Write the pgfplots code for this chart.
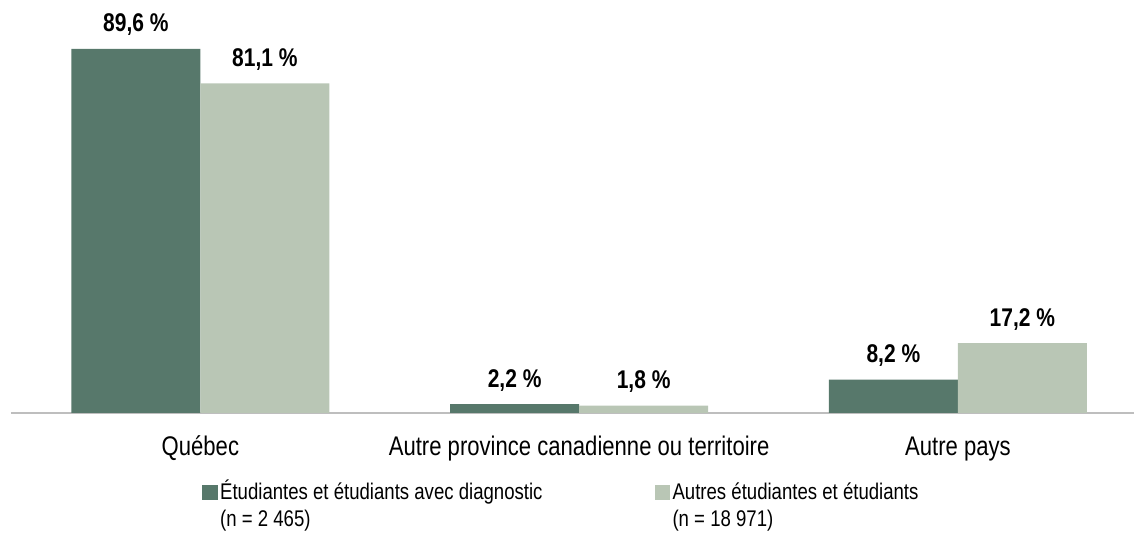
\documentclass[border=0pt]{standalone}
\usepackage{fontspec}
\setmainfont{Liberation Sans}[FakeStretch=0.82]
\usepackage{pgfplots}
\pgfplotsset{compat=1.18}
\definecolor{darkg}{RGB}{87,120,107}
\definecolor{lightg}{RGB}{185,198,181}
\definecolor{axisgray}{RGB}{190,190,190}
\begin{document}
\begin{tikzpicture}
\useasboundingbox (0,0) rectangle (850.5pt,400.5pt);
\begin{axis}[
  at={(8.25pt,90.75pt)}, anchor=south west,
  scale only axis, width=842.25pt, height=309.75pt,
  xmin=-0.5, xmax=2.465, ymin=0, ymax=101.6,
  ybar=0pt, bar width=96.75pt,
  axis y line=none, axis x line=bottom,
  x axis line style={draw=axisgray, line width=1pt, -},
  major tick length=0pt,
  xtick={0,1,2},
  xticklabels={Québec, Autre province canadienne ou territoire, Autre pays},
  xticklabel style={anchor=base, yshift=-32.25pt, font=\fontsize{20.2}{23}\selectfont},
  /pgf/number format/assume math mode=true,
  nodes near coords={\pgfmathprintnumber[fixed,fixed zerofill,precision=1,use comma]{\pgfplotspointmeta}~\%},
  nodes near coords style={anchor=base, yshift=12.75pt, font=\fontsize{19.2}{22}\selectfont\bfseries},
  legend columns=2,
  legend style={at={(0.170,-0.1646)}, anchor=north west, yshift=3pt, draw=none, fill=none, inner sep=0pt,
    font=\fontsize{17}{20}\selectfont, cells={align=left},
    /tikz/every even column/.append style={column sep=82pt}},
  legend image code/.code={\fill[#1] (0pt,3pt) rectangle (11.5pt,14pt);},
]
\addplot[fill=darkg, draw=none] coordinates {(0,89.6) (1,2.2) (2,8.2)};
\addplot[fill=lightg, draw=none] coordinates {(0,81.1) (1,1.8) (2,17.2)};
\legend{{Étudiantes et étudiants avec diagnostic\\ (n = 2~465)}, {\vphantom{É}Autres étudiantes et étudiants\\ (n = 18~971)}}
\end{axis}
\end{tikzpicture}
\end{document}
